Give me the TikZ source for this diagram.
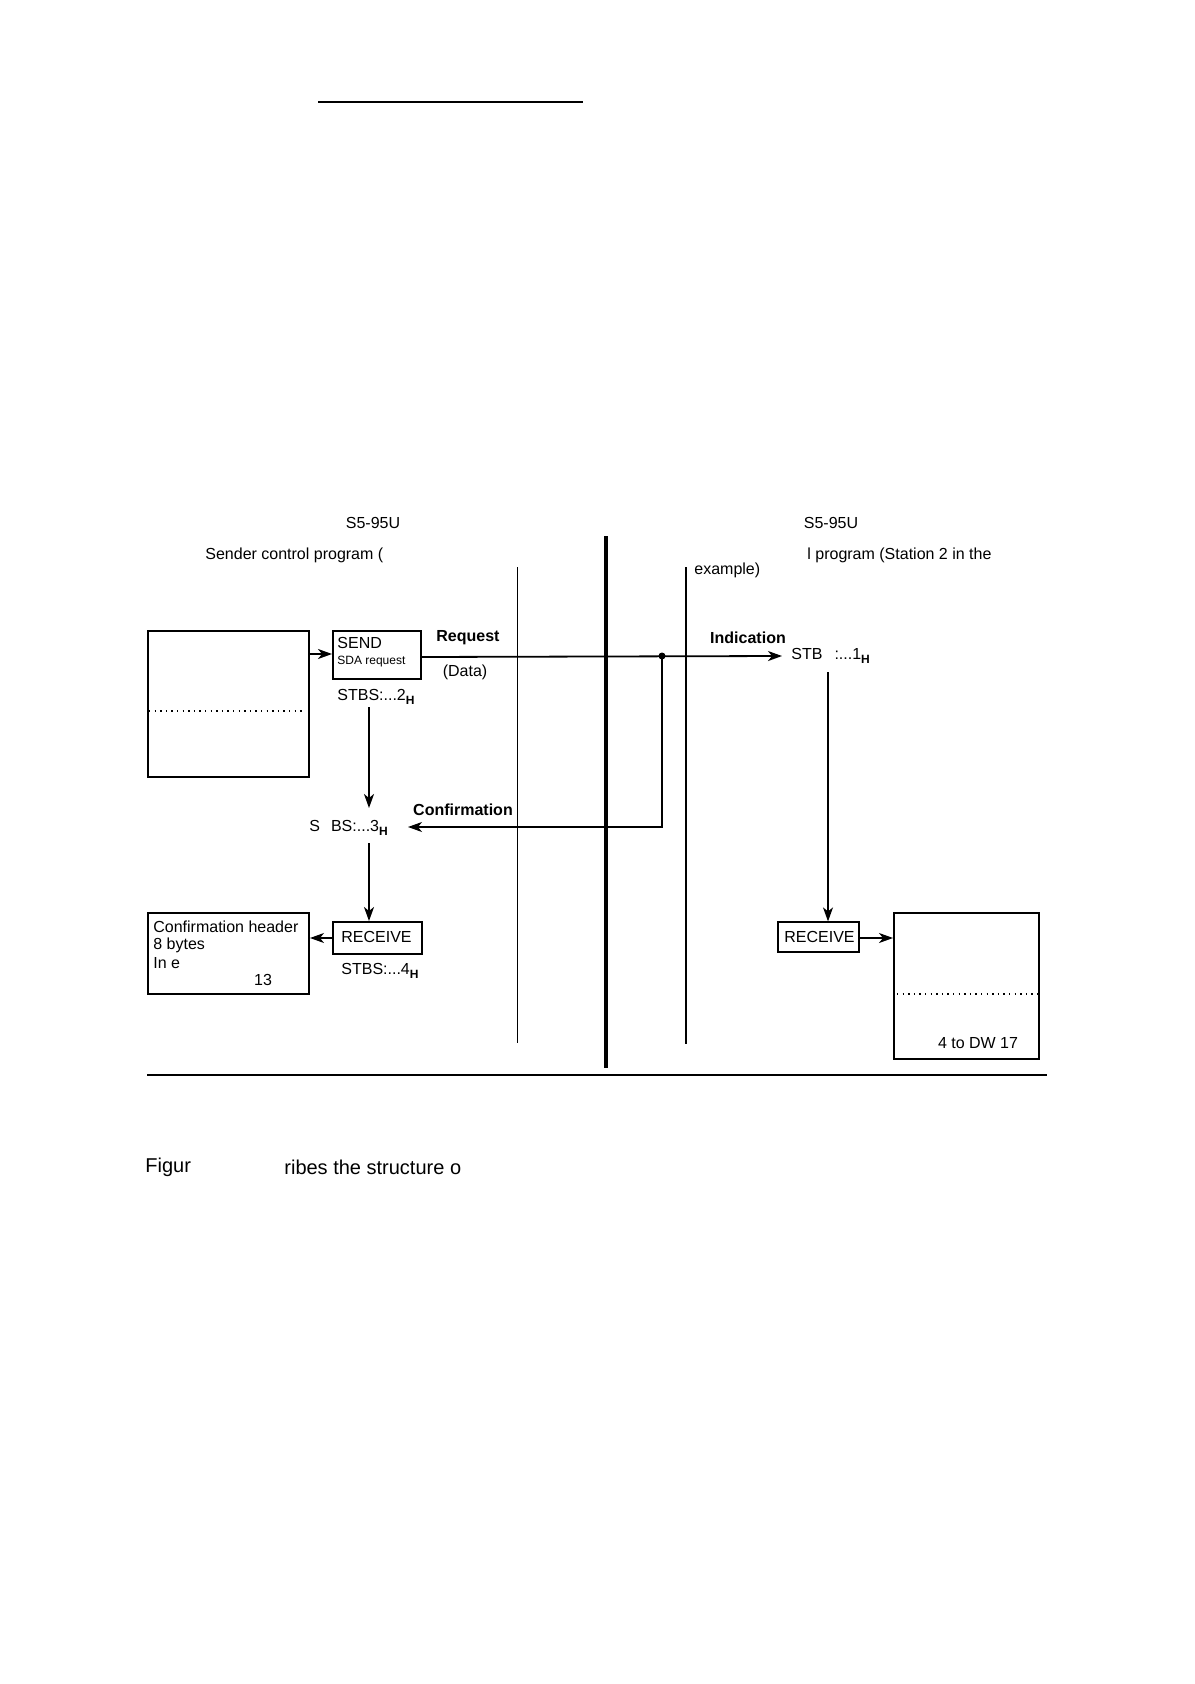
\documentclass[tikz,border=0pt]{standalone}
\usepackage{fontspec}
\setmainfont{Liberation Sans}
\usetikzlibrary{arrows.meta,fit}
\newcommand\Hsub{\raisebox{-0.5ex}{\fontsize{6}{7}\selectfont\bfseries H}}
\begin{document}
\begin{tikzpicture}[x=0.5pt,y=-0.5pt,
  box/.style={draw,line width=1pt,inner sep=0pt},
  txt/.style={inner sep=0pt,anchor=west,font=\fontsize{8}{9.6}\selectfont},
  ctxt/.style={inner sep=0pt,font=\fontsize{8}{9.6}\selectfont},
  btxt/.style={inner sep=0pt,font=\fontsize{8}{9.6}\selectfont\bfseries},
  stxt/.style={inner sep=0pt,anchor=west,font=\fontsize{6}{7}\selectfont},
  foot/.style={inner sep=0pt,anchor=west,font=\fontsize{10}{12}\selectfont},
  arr/.style={-{Stealth[length=7pt,width=5pt,inset=2pt]},line width=0.9pt},
  tarr/.style={-{Stealth[length=7pt,width=5pt,inset=2pt]},line width=0.6pt},
  thin/.style={line width=0.5pt},
  dots/.style={line width=0.7pt,dash pattern=on 0.7pt off 2.1pt}
]
\useasboundingbox (0,0) rectangle (1194,1684);

% top rule
\coordinate (tl1) at (318,102);
\coordinate (tl2) at (583,102);
\draw[line width=1pt] (tl1) -- (tl2);

% headings
\node[ctxt] (h1) at (373,523) {S5-95U};
\node[ctxt] (h2) at (831,523) {S5-95U};
\node[txt] (sender) at (205,555) {Sender control program (};
\node[txt] (recvprog) at (807,555) {l program (Station 2 in the};
\node[txt] (example) at (694,570) {example)};

% vertical separators
\coordinate (v1a) at (517,567); \coordinate (v1b) at (517,1043);
\coordinate (v2a) at (606,536); \coordinate (v2b) at (606,1068);
\coordinate (v3a) at (686,567); \coordinate (v3b) at (686,1044);
\draw[thin] (v1a) -- (v1b);
\draw[line width=2pt] (v2a) -- (v2b);
\draw[line width=0.6pt] (v3a) -- (v3b);

% bottom rule
\coordinate (bl1) at (147,1075); \coordinate (bl2) at (1047,1075);
\draw[line width=1pt] (bl1) -- (bl2);

% left data box
\node[box,fit={(148,631)(309,777)}] (lbox) {};
\coordinate (ld1) at (149,711); \coordinate (ld2) at (305,711);
\draw[dots] (ld1) -- (ld2);

% SEND box
\node[box,fit={(333,631)(421,679)}] (send) {};
\node[txt] (sendt) at (337,643) {SEND};
\node[stxt] (sdat) at (337,662) {SDA request};
\draw[arr] (lbox.east |- 0,654) -- (send.west |- 0,654);

% request line
\node[btxt] (req) at (468,638) {Request};
\node[ctxt] (data) at (465,672) {(Data)};
\node[txt] (stb1) at (791,656) {STB\hspace{6pt}:...1\Hsub};
\node[btxt] (ind) at (748,638) {Indication};
\coordinate (dot) at (662,656);
\coordinate (reqtip) at (782,656);
\draw[arr] (send.east |- 0,657) -- (reqtip);
\fill (dot) circle (3.5);

% STBS 2 and 3
\node[txt] (stb2) at (337,697) {STBS:...2\Hsub};
\node[txt] (stb3) at (309,828) {S\hspace{5.5pt}BS:...3\Hsub};
\node[btxt] (conf) at (463,810) {Confirmation};
\coordinate (a2top) at (369,707);
\coordinate (a2bot) at (369,808);
\draw[arr] (a2top) -- (a2bot);
\coordinate (ccorner) at (662,827);
\coordinate (ctip) at (408,827);
\draw[tarr] (dot) -- (ccorner) -- (ctip);

% left RECEIVE
\node[box,fit={(333,922)(422,954)}] (lrecv) {};
\node[txt] (lrecvt) at (341,937) {RECEIVE};
\node[txt] (stb4) at (341,971) {STBS:...4\Hsub};
\coordinate (a3top) at (369,843);
\draw[arr] (a3top) -- (lrecv.north -| a3top);

% confirmation header box
\node[box,fit={(148,913)(309,994)}] (cbox) {};
\node[txt] (c1) at (153,927) {Confirmation header};
\node[txt] (c2) at (153,945) {8 bytes};
\node[txt] (c3) at (153,963) {In e};
\node[ctxt] (c4) at (263,980) {13};
\draw[tarr] (lrecv.west |- 0,938) -- (cbox.east |- 0,938);

% right RECEIVE
\node[box,line width=0.6pt,fit={(778,922)(859,952)}] (rrecv) {};
\coordinate (rr1) at (778,922); \coordinate (rr2) at (859,922);
\draw[line width=1.2pt] (rr1) -- (rr2);
\node[txt] (rrecvt) at (784,937) {RECEIVE};
\coordinate (a4top) at (828,672);
\draw[tarr] (a4top) -- (rrecv.north -| a4top);

% right data box
\node[box,fit={(894,913)(1039,1059)}] (rbox) {};
\coordinate (rd1) at (897,994); \coordinate (rd2) at (1039,994);
\draw[dots] (rd1) -- (rd2);
\node[ctxt] (rbt) at (978,1043) {4 to DW 17};
\draw[tarr] (rrecv.east |- 0,938) -- (rbox.west |- 0,938);

% footer
\node[foot] (f1) at (145,1167) {Figur};
\node[foot] (f2) at (284,1167) {ribes the structure o};
\end{tikzpicture}
\end{document}
